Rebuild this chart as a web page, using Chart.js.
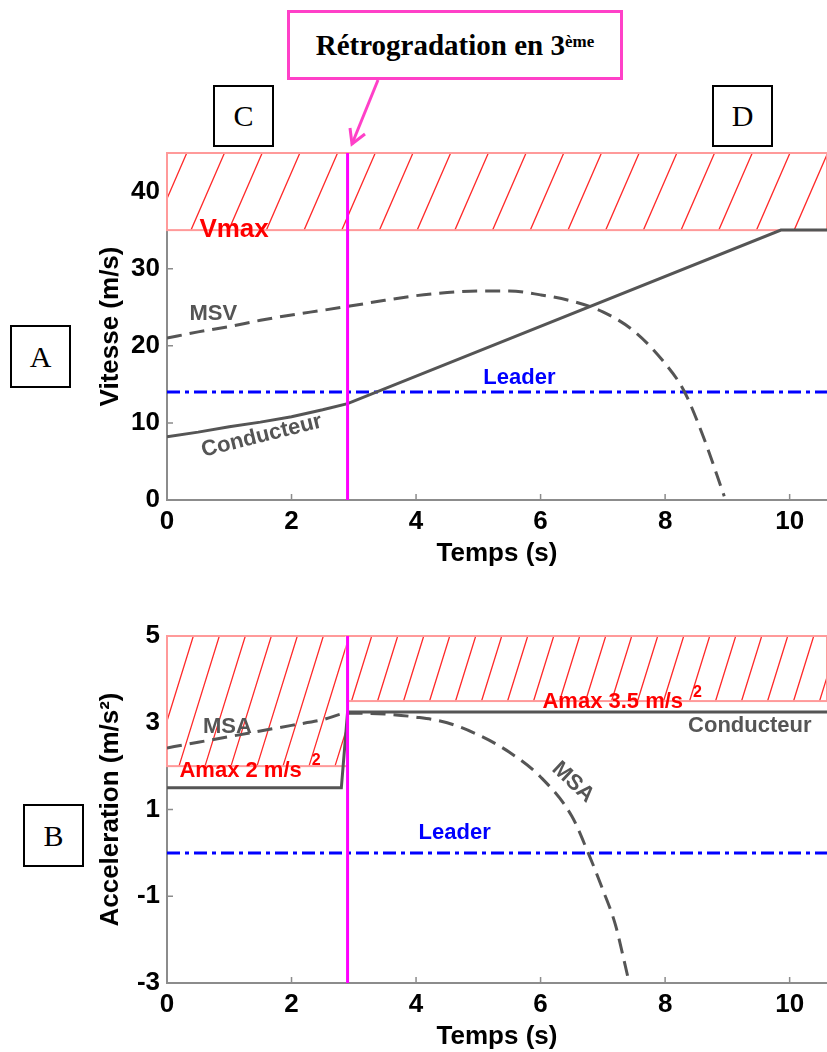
<!DOCTYPE html>
<html>
<head>
<meta charset="utf-8">
<script src="https://cdn.jsdelivr.net/npm/chart.js@4.4.1/dist/chart.umd.min.js"></script>
<style>
  body { margin: 0; background: #fff; }
  #page { position: relative; width: 827px; height: 1052px; overflow: hidden; }
  canvas { position: absolute; left: 0; }
  .tag { position: absolute; border: 2px solid #000; box-sizing: border-box; background: #fff;
         font-family: 'Liberation Serif', 'Times New Roman', serif; font-size: 30px;
         display: flex; align-items: center; justify-content: center; }
  #shift { position: absolute; left: 287px; top: 10px; width: 336px; height: 70px;
           border: 3px solid #ff40c8; box-sizing: border-box; background: #fff;
           font: bold 29px 'Liberation Serif', 'Times New Roman', serif;
           display: flex; align-items: center; justify-content: center; }
  #shift sup { font-size: 17px; position: relative; top: -3px; }
</style>
</head>
<body>
<div id="page">
  <canvas id="speed" width="827" height="580" style="top:0"></canvas>
  <canvas id="accel" width="827" height="472" style="top:580px"></canvas>

  <div id="shift">Rétrogradation en 3<sup>ème</sup></div>
  <svg width="827" height="160" style="position:absolute;left:0;top:0;pointer-events:none">
    <line x1="378" y1="80" x2="352" y2="144" stroke="#ff40c8" stroke-width="3"/>
    <polyline points="365,134 352,144 350,128" fill="none" stroke="#ff40c8" stroke-width="3"/>
  </svg>
  <div class="tag" style="left:213px;top:85px;width:61px;height:62px">C</div>
  <div class="tag" style="left:712px;top:85px;width:61px;height:62px">D</div>
  <div class="tag" style="left:10px;top:325px;width:61px;height:63px">A</div>
  <div class="tag" style="left:23px;top:804px;width:61px;height:63px">B</div>
</div>

<script>
// ---- data ----
const timeTicks = [0, 2, 4, 6, 8, 10];
const speedTicks = [0, 10, 20, 30, 40];
const accelTicks = [-3, -1, 1, 3, 5];
const shiftTime = 2.9;
const timeEnd = 10.6;

const driverSpeedT = [0, 0.5, 1, 1.5, 2, 2.5, 2.9, 9.86, 10.6];
const driverSpeedV = [8.2, 8.8, 9.5, 10.1, 10.8, 11.7, 12.5, 35, 35];

const msvT = [0, 0.5, 1, 1.5, 2, 2.5, 2.9, 3.5, 4, 4.5, 5, 5.5, 6, 6.5, 7, 7.5, 8, 8.3, 8.6, 8.95];
const msvV = [21, 21.8, 22.5, 23.3, 24, 24.6, 25.1, 25.9, 26.5, 26.9, 27.1, 27.1, 26.6, 25.8, 24.4, 21.9, 17.7, 14.2, 8.5, 0.5];

const leaderSpeed = 14;
const vmaxZone = [35, 45];

const driverAccelT = [0, 2.8, 2.9, 10.6];
const driverAccelA = [1.5, 1.5, 3.25, 3.25];

const msaT = [0, 0.5, 1, 1.5, 2, 2.5, 2.9, 3.5, 4, 4.5, 5, 5.5, 6, 6.5, 6.75, 7, 7.2, 7.4];
const msaA = [2.42, 2.55, 2.68, 2.81, 2.94, 3.07, 3.22, 3.2, 3.13, 3.0, 2.72, 2.32, 1.75, 0.85, 0.05, -0.85, -1.65, -2.85];

const leaderAccel = 0;
const amaxBefore = [2, 5];
const amaxAfter = [3.5, 5];

// ---- helpers ----
const sans = "'Liberation Sans', Arial, sans-serif";
const gray = '#555555';
const axisGray = '#8c8c8c';

function pts(xs, ys) { return xs.map((x, i) => ({ x: x, y: ys[i] })); }

function drawZone(chart, z) {
  const { ctx, scales: { x, y } } = chart;
  const L = x.getPixelForValue(z.x0), R = x.getPixelForValue(z.x1);
  const T = y.getPixelForValue(z.y1), B = y.getPixelForValue(z.y0);
  const h = B - T;
  ctx.save();
  ctx.fillStyle = '#fff';
  ctx.fillRect(L - 2, T, R - L + 2, h);
  ctx.beginPath();
  ctx.rect(L, T, R - L, h);
  ctx.clip();
  ctx.beginPath();
  ctx.strokeStyle = '#ff2a2a';
  ctx.lineWidth = 1.3;
  let start = L + z.phase;
  while (start > L - h * z.lean) start -= z.gap;
  for (let px = start; px < R + z.gap; px += z.gap) {
    ctx.moveTo(px, B);
    ctx.lineTo(px + h * z.lean, T);
  }
  ctx.stroke();
  ctx.restore();
  ctx.save();
  ctx.strokeStyle = '#ff9a9a';
  ctx.lineWidth = 2;
  ctx.strokeRect(L, T, R - L, h);
  ctx.restore();
}

function drawNote(chart, n) {
  const { ctx, scales: { x, y } } = chart;
  ctx.save();
  ctx.translate(x.getPixelForValue(n.x), y.getPixelForValue(n.y));
  if (n.rot) ctx.rotate(n.rot * Math.PI / 180);
  ctx.font = 'bold ' + n.size + 'px ' + sans;
  ctx.fillStyle = n.color;
  ctx.textBaseline = 'middle';
  ctx.textAlign = n.align || 'center';
  ctx.fillText(n.text, 0, 0);
  if (n.sup) {
    const w = ctx.measureText(n.text).width;
    ctx.font = 'bold 16px ' + sans;
    ctx.textAlign = 'left';
    ctx.fillText(n.sup, (n.align === 'left' ? w : w / 2) + 10, -10);
  }
  ctx.restore();
}

function decor(zones, notes) {
  return {
    id: 'decor',
    beforeDatasetsDraw(chart) {
      const { ctx, chartArea, scales: { x, y } } = chart;
      ctx.save();
      ctx.strokeStyle = axisGray;
      ctx.lineWidth = 1.5;
      ctx.beginPath();
      x.ticks.forEach(t => {
        const px = x.getPixelForValue(t.value);
        ctx.moveTo(px, chartArea.bottom);
        ctx.lineTo(px, chartArea.bottom - 6);
      });
      y.ticks.forEach(t => {
        const py = y.getPixelForValue(t.value);
        ctx.moveTo(chartArea.left, py);
        ctx.lineTo(chartArea.left + 6, py);
      });
      ctx.stroke();
      ctx.restore();
      zones.forEach(z => drawZone(chart, z));
    },
    afterDatasetsDraw(chart) {
      notes.forEach(n => drawNote(chart, n));
    }
  };
}

function axes(yMin, yMax, yTicks, yTitle, xHeight, xTitlePad) {
  const tickFont = { family: sans, size: 26, weight: 'bold' };
  return {
    x: {
      type: 'linear', min: 0, max: timeEnd,
      afterBuildTicks: s => { s.ticks = timeTicks.map(v => ({ value: v })); },
      afterFit: s => { s.height = xHeight; },
      grid: { display: false, drawTicks: false },
      border: { display: true, color: axisGray, width: 2 },
      ticks: { font: tickFont, color: '#000', padding: 6, maxRotation: 0, autoSkip: false },
      title: { display: true, text: 'Temps (s)', color: '#000', font: tickFont, padding: { top: 0, bottom: xTitlePad } }
    },
    y: {
      type: 'linear', min: yMin, max: yMax,
      afterBuildTicks: s => { s.ticks = yTicks.map(v => ({ value: v })); },
      afterFit: s => { s.width = 167; },
      grid: { display: false, drawTicks: false },
      border: { display: true, color: axisGray, width: 2 },
      ticks: { font: tickFont, color: '#000', padding: 7, autoSkip: false },
      title: { display: true, text: yTitle, color: '#000', font: tickFont, padding: { top: 95, bottom: 0 } }
    }
  };
}

const base = {
  responsive: false,
  animation: false,
  events: [],
  plugins: { legend: { display: false }, tooltip: { enabled: false } },
  elements: { point: { radius: 0 } }
};

// ---- speed chart ----
new Chart(document.getElementById('speed'), {
  type: 'line',
  data: {
    datasets: [
      { data: pts([shiftTime, shiftTime], [0, 45]), borderColor: '#ff00ff', borderWidth: 3 },
      { data: pts(driverSpeedT, driverSpeedV), borderColor: gray, borderWidth: 3 },
      { data: pts(msvT, msvV), borderColor: gray, borderWidth: 3, borderDash: [15, 8], cubicInterpolationMode: 'monotone' },
      { data: pts([0, timeEnd], [leaderSpeed, leaderSpeed]), borderColor: '#0000ff', borderWidth: 3, borderDash: [13, 5, 4, 5] }
    ]
  },
  options: Object.assign({}, base, {
    layout: { padding: { top: 153, left: 0, right: 0, bottom: 0 } },
    scales: axes(0, 45, speedTicks, 'Vitesse (m/s)', 80, 11)
  }),
  plugins: [decor(
    [{ x0: 0, x1: timeEnd, y0: vmaxZone[0], y1: vmaxZone[1], gap: 37.7, lean: 0.434, phase: 24 }],
    [
      { text: 'Vmax', x: 0.52, y: 35.0, color: '#ff0000', size: 26, align: 'left' },
      { text: 'MSV', x: 0.36, y: 24.1, color: gray, size: 22, align: 'left' },
      { text: 'Conducteur', x: 1.52, y: 8.3, color: gray, size: 22, rot: -14 },
      { text: 'Leader', x: 5.66, y: 15.8, color: '#0000ff', size: 22 }
    ]
  )]
});

// ---- acceleration chart ----
new Chart(document.getElementById('accel'), {
  type: 'line',
  data: {
    datasets: [
      { data: pts([shiftTime, shiftTime], [-3, 5]), borderColor: '#ff00ff', borderWidth: 3 },
      { data: pts(driverAccelT, driverAccelA), borderColor: gray, borderWidth: 3 },
      { data: pts(msaT, msaA), borderColor: gray, borderWidth: 3, borderDash: [15, 8], cubicInterpolationMode: 'monotone' },
      { data: pts([0, timeEnd], [leaderAccel, leaderAccel]), borderColor: '#0000ff', borderWidth: 3, borderDash: [13, 5, 4, 5] }
    ]
  },
  options: Object.assign({}, base, {
    layout: { padding: { top: 56, left: 0, right: 0, bottom: 0 } },
    scales: axes(-3, 5, accelTicks, 'Acceleration (m/s²)', 69, 0)
  }),
  plugins: [decor(
    [
      { x0: 0, x1: shiftTime, y0: amaxBefore[0], y1: amaxBefore[1], gap: 26, lean: 0.31, phase: 12 },
      { x0: shiftTime, x1: timeEnd, y0: amaxAfter[0], y1: amaxAfter[1], gap: 26, lean: 0.31, phase: 4 }
    ],
    [
      { text: 'MSA', x: 0.97, y: 2.9, color: gray, size: 22 },
      { text: 'Amax 2 m/s', sup: '2', x: 0.2, y: 1.89, color: '#ff0000', size: 22, align: 'left' },
      { text: 'Amax 3.5 m/s', sup: '2', x: 6.03, y: 3.47, color: '#ff0000', size: 22, align: 'left' },
      { text: 'Conducteur', x: 9.36, y: 2.92, color: gray, size: 22 },
      { text: 'MSA', x: 6.52, y: 1.63, color: gray, size: 22, rot: 43 },
      { text: 'Leader', x: 4.62, y: 0.46, color: '#0000ff', size: 22 }
    ]
  )]
});
</script>
</body>
</html>
